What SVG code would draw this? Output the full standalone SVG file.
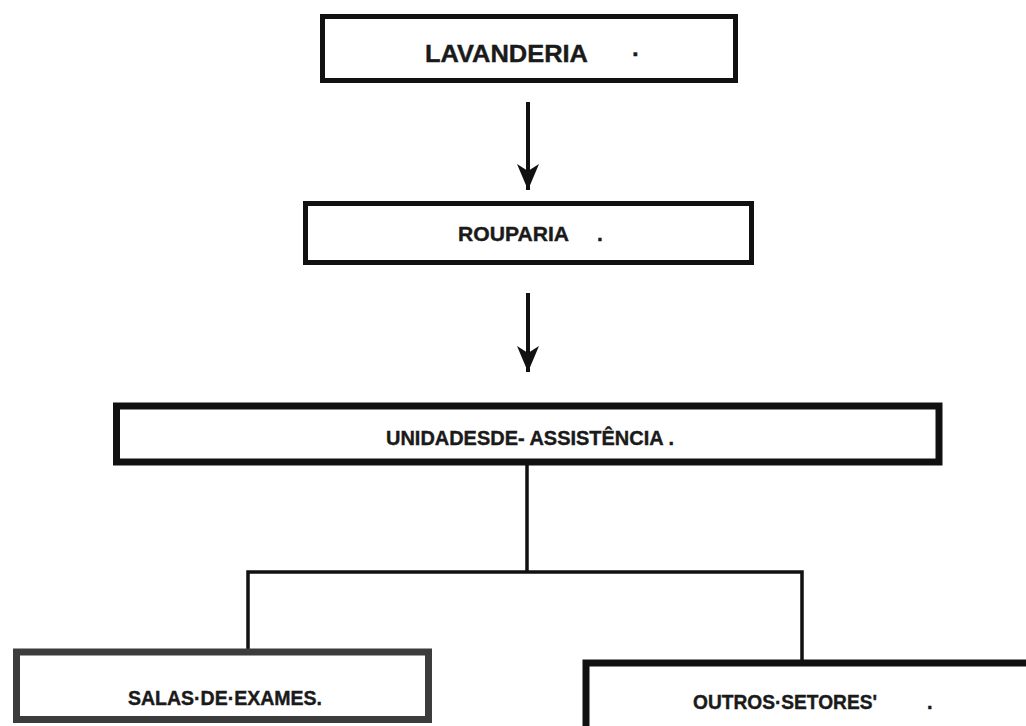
<svg xmlns="http://www.w3.org/2000/svg" width="1026" height="726" viewBox="0 0 1026 726">
  <style>
    .box { fill: #ffffff; stroke: #111111; stroke-width: 5; }
    .box-thick { fill: #ffffff; stroke: #111111; stroke-width: 7; }
    .box-grey { fill: #ffffff; stroke: #3c3c3c; stroke-width: 7; }
    .label { font-family: "Liberation Sans", Arial, sans-serif; font-weight: bold; fill: #1a1a1a; stroke: #1a1a1a; stroke-width: 0.4; }
    .wire { fill: none; stroke: #111111; stroke-width: 3.5; }
    .arrow { fill: none; stroke: #111111; stroke-width: 4; marker-end: url(#head); }
  </style>
  <defs>
    <marker id="head" markerUnits="userSpaceOnUse" viewBox="0 0 26 22" refX="26" refY="11" markerWidth="26" markerHeight="22" orient="auto">
      <path d="M0,0 L26,11 L0,22 L7,11 z" fill="#111111"/>
    </marker>
  </defs>
  <rect width="1026" height="726" fill="#ffffff"/>

  <g id="connectors">
    <line class="arrow" x1="528" y1="102" x2="528" y2="190"/>
    <line class="arrow" x1="528" y1="293" x2="528" y2="372"/>
    <polyline class="wire" points="527,465 527,572"/>
    <polyline class="wire" points="248,652 248,572 802,572 802,663"/>
  </g>

  <g id="lavanderia">
    <rect class="box" x="322.5" y="16.5" width="413" height="64"/>
    <text class="label" font-size="24" y="62"><tspan x="425" textLength="163" lengthAdjust="spacingAndGlyphs">LAVANDERIA</tspan><tspan x="632">·</tspan></text>
  </g>

  <g id="rouparia">
    <rect class="box" x="305.5" y="203.5" width="446" height="59"/>
    <text class="label" font-size="21" y="241"><tspan x="458" textLength="111" lengthAdjust="spacingAndGlyphs">ROUPARIA</tspan><tspan x="597">.</tspan></text>
  </g>

  <g id="unidades">
    <rect class="box-thick" x="116.5" y="406" width="822.5" height="56"/>
    <text class="label" font-size="21" x="386" y="445" textLength="288" lengthAdjust="spacingAndGlyphs">UNIDADESDE- ASSISTÊNCIA .</text>
  </g>

  <g id="salas">
    <rect class="box-grey" x="16.5" y="652" width="412" height="67.5"/>
    <text class="label" font-size="20" x="128" y="705" textLength="194" lengthAdjust="spacingAndGlyphs">SALAS·DE·EXAMES.</text>
  </g>

  <g id="outros">
    <rect class="box-thick" x="586" y="663" width="460" height="90"/>
    <text class="label" font-size="20" y="709"><tspan x="693" textLength="184" lengthAdjust="spacingAndGlyphs">OUTROS·SETORES'</tspan><tspan x="927">.</tspan></text>
  </g>
</svg>
